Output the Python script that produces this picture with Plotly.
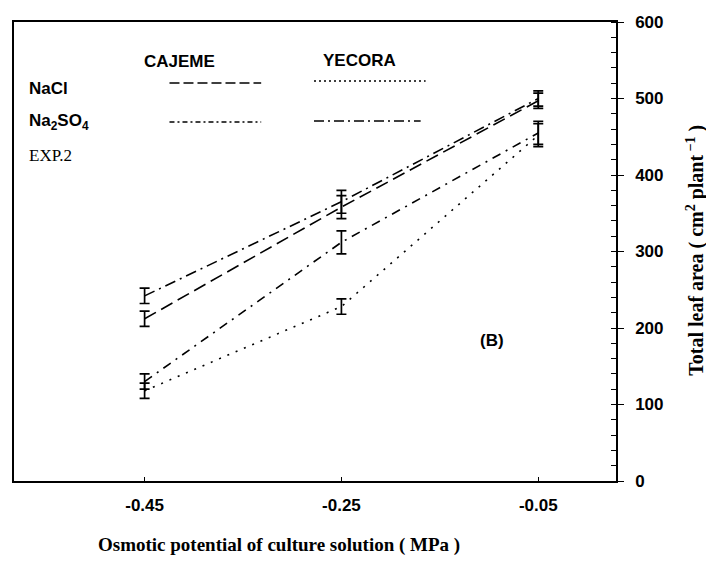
import plotly.graph_objects as go

x_vals = [-0.45, -0.25, -0.05]
cajeme_nacl = [212, 358, 497]
cajeme_nacl_err = [10, 15, 10]
cajeme_na2so4 = [242, 365, 500]
cajeme_na2so4_err = [10, 15, 10]
yecora_nacl = [118, 228, 452]
yecora_nacl_err = [10, 10, 15]
yecora_na2so4 = [130, 312, 455]
yecora_na2so4_err = [10, 15, 15]

x_ticks = [-0.45, -0.25, -0.05]
x_ticklabels = ["-0.45", "-0.25", "-0.05"]
y_ticks = [0, 100, 200, 300, 400, 500, 600]

series = [
    ("CAJEME NaCl", cajeme_nacl, cajeme_nacl_err, "13px,6px"),
    ("CAJEME Na2SO4", cajeme_na2so4, cajeme_na2so4_err, "11px,5px,2px,5px"),
    ("YECORA NaCl", yecora_nacl, yecora_nacl_err, "2px,7px"),
    ("YECORA Na2SO4", yecora_na2so4, yecora_na2so4_err, "9px,6px,2px,6px"),
]

fig = go.Figure()
for name, ys, es, dash in series:
    fig.add_trace(go.Scatter(
        x=x_vals, y=ys, name=name, mode="lines",
        line=dict(color="black", width=1.6, dash=dash),
        error_y=dict(type="data", array=es, visible=True, color="black",
                     thickness=1.7, width=5),
        showlegend=False,
    ))

L, R, T, B = 12, 90, 22, 86
W, H = 706, 567
pw, ph = W - L - R, H - T - B

def px(x):
    return (x - L) / pw

def py(y):
    return (H - B - y) / ph

bold = "Liberation Sans"
serif = "Liberation Serif"

ann = [
    ("<b>CAJEME</b>", 140, 62, bold, 17, 0, "left"),
    ("<b>YECORA</b>", 320, 60, bold, 17, 0, "left"),
    ("<b>NaCl</b>", 25, 88, bold, 17, 0, "left"),
    ("<b>Na<sub>2</sub>SO<sub>4</sub></b>", 25, 122, bold, 17, 0, "left"),
    ("EXP.2", 25, 155, serif, 17, 0, "left"),
    ("<b>(B)</b>", 478, 340, bold, 17, 0, "left"),
    ("<b>Osmotic potential of culture solution ( MPa )</b>", 278, 545, serif, 19, 0, "center"),
    ("<b>Total leaf area ( cm<sup>2</sup> plant<sup> \u22121</sup> )</b>", 695, 250, serif, 20, -90, "center"),
]
annotations = []
for text, x, y, fam, size, ang, xa in ann:
    annotations.append(dict(
        text=text, x=px(x), y=py(y), xref="paper", yref="paper",
        xanchor=xa, yanchor="middle", showarrow=False, textangle=ang,
        font=dict(family=fam, size=size, color="black")))

legend_lines = [
    (168, 260, 83, "10px,4px"),
    (313, 425, 81, "2px,3px"),
    (168, 260, 122, "5px,3px,2px,3px"),
    (313, 420, 121, "10px,4px,2px,4px"),
]
shapes = []
for x0, x1, y, dash in legend_lines:
    shapes.append(dict(type="line", xref="paper", yref="paper",
                       x0=px(x0), x1=px(x1), y0=py(y), y1=py(y),
                       line=dict(color="black", width=1.3, dash=dash)))

fig.update_layout(
    width=W, height=H,
    margin=dict(l=L, r=R, t=T, b=B),
    paper_bgcolor="white", plot_bgcolor="white",
    annotations=annotations, shapes=shapes,
    xaxis=dict(
        range=[-0.5827, 0.029], tickvals=x_ticks, ticktext=x_ticklabels,
        showline=True, linecolor="black", linewidth=1.5, mirror=True,
        ticks="inside", ticklen=4, tickcolor="black",
        showgrid=False, zeroline=False, ticklabelstandoff=8,
        tickfont=dict(family=bold, size=17, color="black", weight="bold"),
    ),
    yaxis=dict(
        range=[0, 600], tickvals=y_ticks, side="right",
        showline=True, linecolor="black", linewidth=1.5, mirror=True,
        ticks="outside", ticklen=6, tickcolor="black",
        minor=dict(ticks="inside", ticklen=5, dtick=20, tickcolor="black", showgrid=False),
        showgrid=False, zeroline=False, ticklabelstandoff=8,
        tickfont=dict(family=bold, size=17, color="black", weight="bold"),
    ),
)

fig.write_html("out.html")
